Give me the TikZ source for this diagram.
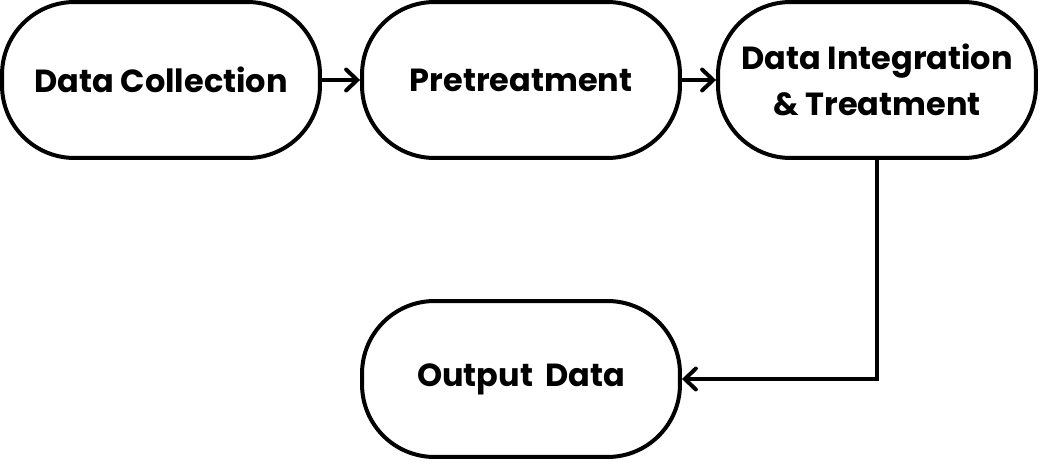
\documentclass[tikz,border=0pt]{standalone}
\usepackage{fontspec}
\setmainfont{Poppins}[BoldFont={* Bold}]
\usetikzlibrary{arrows.meta}

\tikzset{
    stage/.style={draw, line width=0.08cm, rounded corners=1.45cm,
        minimum width=6.36cm, minimum height=3.12cm, align=center,
        font=\fontsize{18.2}{26}\selectfont\bfseries, inner sep=0pt},
    flow/.style={line width=0.08cm,
        -{Straight Barb[length=0.22cm, width=0.42cm, line width=0.08cm, line cap=round]}}
}

\begin{document}
\begin{tikzpicture}[x=0.02cm, y=-0.02cm]
    \useasboundingbox (0,0) rectangle (1040,466);

    % Top row
    \node[stage] (collect) at (161,80) {Data Collection};
    \node[stage] (pretreat) at (521,80) {Pretreatment};
    \node[stage] (integrate) at (877,80) {Data Integration\\\& Treatment};

    % Bottom
    \node[stage] (output) at (521,379) {Output\, Data};

    % Connectors
    \draw[flow] (collect) -- (pretreat);
    \draw[flow] (pretreat) -- (integrate);
    \draw[flow] (integrate.south) |- (output.east);
\end{tikzpicture}
\end{document}
